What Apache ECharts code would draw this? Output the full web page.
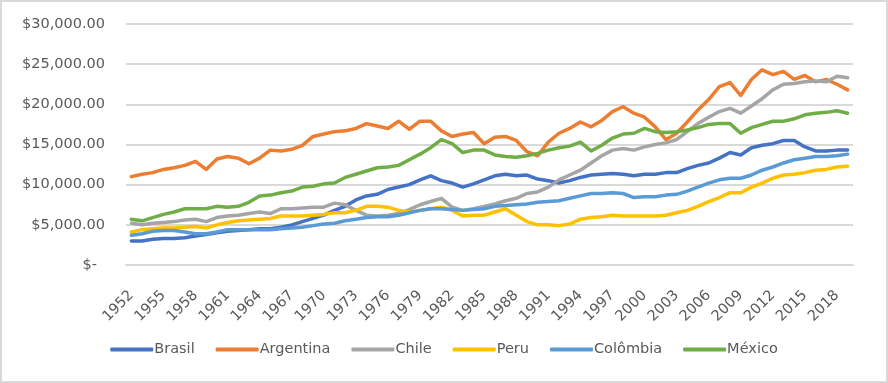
<!DOCTYPE html>
<html>
<head>
<meta charset="utf-8">
<script src="https://cdn.jsdelivr.net/npm/echarts@6/dist/echarts.min.js"></script>
<style>
html,body{margin:0;padding:0;background:#fff;}
#c{width:888px;height:383px;box-sizing:border-box;border:2px solid #d9d9d9;}
</style>
</head>
<body>
<div id="c"></div>
<script>
var years = [];
for (var y = 1952; y <= 2019; y++) years.push(String(y));

var brasil = [3000,3000,3200,3300,3300,3400,3600,3800,4000,4200,
  4300,4400,4500,4500,4700,5000,5400,5800,6200,6800,
  7300,8100,8600,8800,9400,9700,10000,10600,11100,10500,
  10200,9700,10100,10600,11100,11300,11100,11200,10700,10500,
  10200,10500,10900,11200,11300,11400,11300,11100,11300,11300,
  11500,11500,12000,12400,12700,13300,14000,13700,14600,14900,
  15100,15500,15500,14700,14200,14200,14300,14300];
var argentina = [11000,11300,11500,11900,12100,12400,12900,11900,13200,13500,
  13300,12600,13300,14300,14200,14400,14900,16000,16300,16600,
  16700,17000,17600,17300,17000,17900,16900,17900,17900,16700,
  16000,16300,16500,15100,15900,16000,15500,14100,13600,15300,
  16400,17000,17800,17200,18000,19100,19700,18900,18400,17200,
  15600,16400,17800,19300,20600,22200,22700,21100,23100,24300,
  23700,24100,23100,23600,22800,23100,22500,21800];
var chile = [5200,5000,5200,5300,5400,5600,5700,5400,5900,6100,
  6200,6400,6600,6400,7000,7000,7100,7200,7200,7700,
  7500,6800,6200,6100,6200,6400,6900,7500,7900,8300,
  7200,6800,7000,7300,7600,8000,8300,8900,9100,9700,
  10600,11200,11800,12700,13600,14300,14500,14300,14700,15000,
  15200,15600,16600,17600,18400,19100,19500,18900,19800,20700,
  21800,22500,22600,22800,22900,22800,23500,23300];
var peru = [4100,4400,4500,4600,4600,4700,4800,4600,5000,5300,
  5500,5600,5700,5800,6100,6100,6100,6200,6300,6500,
  6500,6800,7300,7300,7200,6800,6600,6800,7000,7200,
  6800,6100,6200,6200,6600,7000,6200,5400,5000,5000,
  4900,5100,5700,5900,6000,6200,6100,6100,6100,6100,
  6200,6500,6800,7300,7900,8400,9000,9000,9700,10200,
  10800,11200,11300,11500,11800,11900,12200,12300];
var colombia = [3700,3900,4200,4300,4300,4100,3900,3900,4100,4400,
  4400,4400,4400,4400,4500,4600,4700,4900,5100,5200,
  5500,5700,5900,6000,6000,6200,6500,6800,7000,7000,
  6900,6800,6900,7000,7300,7400,7500,7600,7800,7900,
  8000,8300,8600,8900,8900,9000,8900,8400,8500,8500,
  8700,8800,9200,9700,10200,10600,10800,10800,11200,11800,
  12200,12700,13100,13300,13500,13500,13600,13800];
var mexico = [5700,5500,5900,6300,6600,7000,7000,7000,7300,7200,
  7300,7800,8600,8700,9000,9200,9700,9800,10100,10200,
  10900,11300,11700,12100,12200,12400,13100,13800,14600,15600,
  15100,14000,14300,14300,13700,13500,13400,13600,13900,14300,
  14600,14800,15300,14200,14900,15800,16300,16400,17000,16600,
  16500,16600,16800,17100,17500,17600,17600,16400,17100,17500,
  17900,17900,18200,18700,18900,19000,19200,18900];

var seriesNames = ['Brasil','Argentina','Chile','Peru','Colômbia','México'];
var seriesData = [brasil, argentina, chile, peru, colombia, mexico];
var colors = ['#4472C4','#ED7D31','#A5A5A5','#FFC000','#5B9BD5','#70AD47'];

var FONT = 'DejaVu Sans';
var FS = 14.5;
var chart = echarts.init(document.getElementById('c'), null, {renderer:'canvas'});
var series = seriesNames.map(function(n, i){
  return {
    name: n, type: 'line', data: seriesData[i],
    showSymbol: false, symbol: 'none', smooth: false,
    lineStyle: {width: 3.5, color: colors[i], cap: 'round', join: 'round'},
    itemStyle: {color: colors[i]},
    emphasis: {disabled: true}
  };
});
chart.setOption({
  animation: false,
  color: colors,
  grid: {left: 124, right: 33, top: 22, bottom: 116, containLabel: false},
  xAxis: {
    type: 'category', data: years, boundaryGap: true,
    axisLine: {show: true, lineStyle: {color: '#d9d9d9', width: 2}},
    axisTick: {show: false},
    axisLabel: {interval: 2, rotate: 45, margin: 28, fontFamily: FONT, fontSize: FS, color: '#595959'}
  },
  yAxis: {
    type: 'value', min: 0, max: 30000, interval: 5000,
    axisLine: {show: false}, axisTick: {show: false},
    splitLine: {lineStyle: {color: '#d9d9d9', width: 2}},
    axisLabel: {
      margin: 21, fontFamily: FONT, fontSize: FS, color: '#595959',
      formatter: function(v){
        if (v === 0) return '{z|$-}';
        return '$' + v.toLocaleString('en-US', {minimumFractionDigits: 2, maximumFractionDigits: 2});
      },
      rich: {z: {padding: [0, 8, 0, 0], fontFamily: FONT, fontSize: FS, color: '#595959'}}
    }
  },
  legend: {
    bottom: 19, left: 'center',
    icon: 'roundRect', itemWidth: 43, itemHeight: 4, itemGap: 21,
    textStyle: {fontFamily: FONT, fontSize: FS, color: '#595959', padding: [0, 0, 0, -4]},
    data: seriesNames
  },
  series: series
});
</script>
</body>
</html>
